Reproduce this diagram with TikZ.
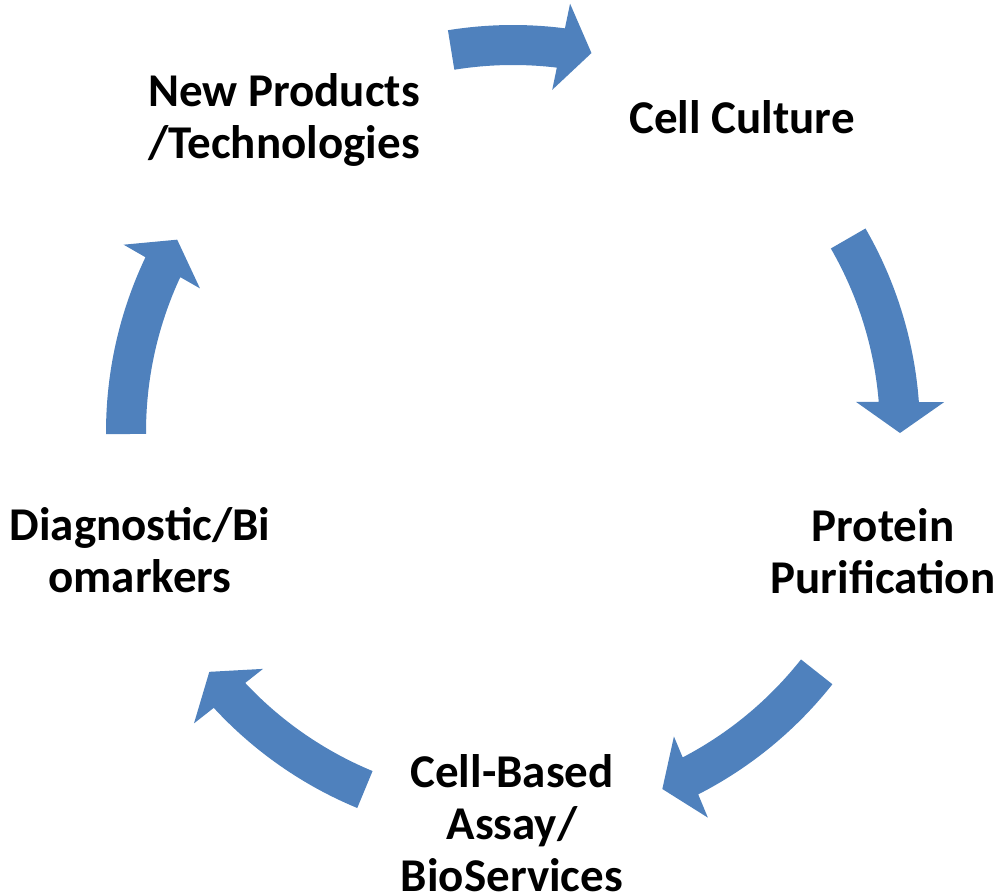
\documentclass[tikz,border=0pt]{standalone}
\usepackage{fontspec}
\setmainfont{Carlito}
\definecolor{cycblue}{HTML}{4F81BD}
\tikzset{
  lbl/.style={font=\bfseries\fontsize{47}{52}\selectfont, align=center, inner sep=0pt, anchor=base, text=black},
  pics/cycarrow/.style 2 args={code={
    \fill[cycblue] (#1:407) arc[start angle=#1, end angle={#2+4.37}, radius=407]
      -- ({#2+4.11}:432.1) -- (#2:387) -- ({#2+5.16}:344.4)
      -- ({#2+4.84}:367) arc[start angle={#2+4.84}, end angle=#1, radius=367] -- cycle;
  }}
}
\begin{document}
\begin{tikzpicture}[x=1pt,y=1pt]
\useasboundingbox (0,0) rectangle (1002,895);
\begin{scope}[shift={(513,463)}]
  \pic {cycarrow={99.2}{78.3}};
  \pic {cycarrow={30}{-0.15}};
  \pic {cycarrow={-38.3}{-67.3}};
  \pic {cycarrow={-112.5}{-141.7}};
  \pic {cycarrow={180.3}{150.2}};
\end{scope}
\node[lbl] (newprod) at (284,736) {New Products\\/Technologies};
\node[lbl] (cellcult) at (742,761) {Cell Culture};
\node[lbl] (protein) at (883,301) {Protein\\Purification};
\node[lbl] (assay) at (512,4) {Cell-Based\\Assay/\\BioServices};
\node[lbl] (diag) at (140,302) {Diagnostic/Bi\\omarkers};
\end{tikzpicture}
\end{document}
